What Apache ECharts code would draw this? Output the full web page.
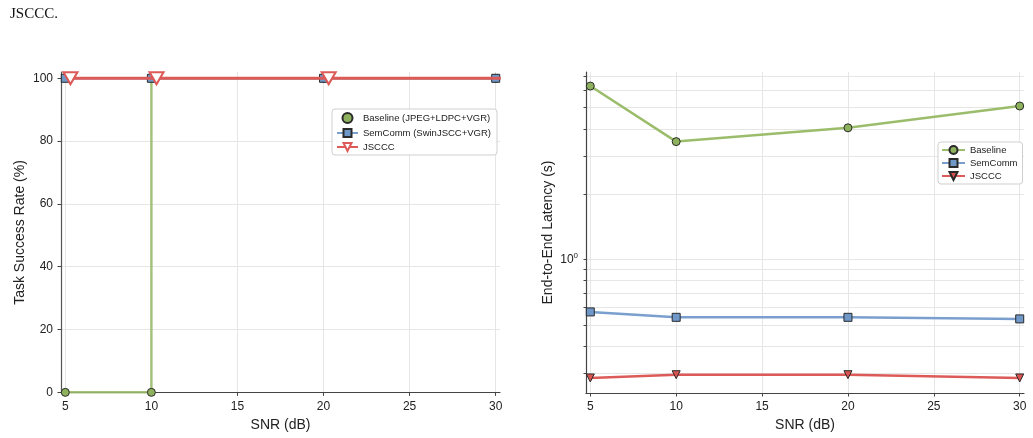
<!DOCTYPE html>
<html><head><meta charset="utf-8">
<script src="https://cdn.jsdelivr.net/npm/echarts@6/dist/echarts.min.js"></script>
<style>html,body{margin:0;padding:0;background:#fff}#c{width:1033px;height:438px}</style>
</head><body><div id="c"></div>
<script>
// ---- data ----
const snr = [5, 10, 20, 30];
const snrJSCCCLeft = [5.3, 10.3, 20.3, 30.3];
const successBaseline = [0, 0, 100, 100];
const successSemComm = [100, 100, 100, 100];
const successJSCCC = [100, 100, 100, 100];
const latBaseline = [6.29, 3.49, 4.04, 5.09];
const latSemComm = [0.574, 0.542, 0.542, 0.533];
const latJSCCC = [0.285, 0.295, 0.295, 0.285];
const xTicks = [5, 10, 15, 20, 25, 30];
const successTicks = [0, 20, 40, 60, 80, 100];
const latencyGrid = [0.3, 0.4, 0.5, 0.6, 0.7, 0.8, 0.9, 1, 2, 3, 4, 5, 6, 7];
const latencyLabels = [1];

const pairs = (xs, ys) => xs.map((x, i) => [x, ys[i]]);
const FONT = "'Liberation Sans', Arial, sans-serif";
const GREEN = '#9bbd6b', GREEN_F = '#8db15c';
const BLUE = '#7a9fcf', BLUE_F = '#6f97c8';
const RED = '#dc5b58', RED_F = '#d95350';
const EDGE = '#2a2a2a';

const xAxisBase = (gi) => ({
  type: 'value', gridIndex: gi, min: 4.75, max: 30.25,
  name: 'SNR (dB)', nameLocation: 'middle', nameGap: 24,
  nameTextStyle: {fontFamily: FONT, fontSize: 14, color: '#222'},
  axisLine: {show: true, lineStyle: {color: '#444', width: 1.2}},
  axisTick: {show: true, length: 3.5, customValues: xTicks, lineStyle: {color: '#444'}},
  axisLabel: {customValues: xTicks, fontFamily: FONT, fontSize: 12, color: '#222', margin: 8},
  splitLine: {show: true, lineStyle: {color: '#e6e6e6', width: 1}}
});

const legendBase = {
  orient: 'vertical', itemWidth: 21, itemHeight: 10, itemGap: 4,
  borderColor: '#cfcfcf', borderWidth: 1, borderRadius: 3, backgroundColor: '#fff',
  textStyle: {fontFamily: FONT, fontSize: 9.5, color: '#222'}
};

const option = {
  animation: false,
  backgroundColor: '#fff',
  title: {text: 'JSCCC.', left: 5, top: 2, textStyle: {fontFamily: "'Liberation Serif', 'Times New Roman', serif", fontSize: 15, fontWeight: 'normal', color: '#111'}},
  grid: [
    {left: 61, right: 533, top: 72, bottom: 45},
    {left: 586, right: 9, top: 72, bottom: 45}
  ],
  xAxis: [xAxisBase(0), xAxisBase(1)],
  yAxis: [
    {
      type: 'value', gridIndex: 0, min: -0.2, max: 102,
      name: 'Task Success Rate (%)', nameLocation: 'middle', nameGap: 34,
      nameTextStyle: {fontFamily: FONT, fontSize: 14, color: '#222'},
      axisLine: {show: true, lineStyle: {color: '#555', width: 1.2}},
      axisTick: {show: true, length: 3.5, customValues: successTicks, lineStyle: {color: '#444'}},
      axisLabel: {customValues: successTicks, fontFamily: FONT, fontSize: 12, color: '#222', margin: 8},
      splitLine: {show: true, lineStyle: {color: '#e6e6e6', width: 1}}
    },
    {
      type: 'log', logBase: 10, gridIndex: 1, min: 0.243, max: 7.3,
      name: 'End-to-End Latency (s)', nameLocation: 'middle', nameGap: 31,
      nameTextStyle: {fontFamily: FONT, fontSize: 14, color: '#222'},
      axisLine: {show: true, lineStyle: {color: '#444', width: 1.2}},
      axisTick: {show: true, length: 2.5, customValues: latencyGrid, lineStyle: {color: '#444'}},
      axisLabel: {
        customValues: latencyLabels, fontFamily: FONT, fontSize: 12, color: '#222', margin: 8,
        formatter: v => '10{sup|' + Math.round(Math.log10(v)) + '}',
        rich: {sup: {fontSize: 8, fontFamily: FONT, color: '#222', verticalAlign: 'top', padding: [0, 0, 7, 0]}}
      },
      splitLine: {show: true, lineStyle: {color: '#e6e6e6', width: 1}}
    }
  ],
  legend: [
    Object.assign({}, legendBase, {
      left: 332, top: 109, padding: [3, 6, 3, 4],
      formatter: n => n.trim(),
      data: [
        {name: 'Baseline (JPEG+LDPC+VGR)', icon: 'circle'},
        {name: 'SemComm (SwinJSCC+VGR)'},
        {name: 'JSCCC '}
      ]
    }),
    Object.assign({}, legendBase, {
      left: 938, top: 142, padding: [3, 5, 3, 3], itemGap: 3, itemWidth: 23,
      data: ['Baseline', 'SemComm', 'JSCCC']
    })
  ],
  series: [
    {
      name: 'Baseline (JPEG+LDPC+VGR)', type: 'line', xAxisIndex: 0, yAxisIndex: 0,
      data: pairs(snr, successBaseline), step: 'start',
      lineStyle: {color: GREEN, width: 2.5, opacity: 0.9},
      symbol: 'circle', symbolSize: 8,
      itemStyle: {color: GREEN_F, borderColor: EDGE, borderWidth: 1}, z: 2
    },
    {
      name: 'SemComm (SwinJSCC+VGR)', type: 'line', xAxisIndex: 0, yAxisIndex: 0,
      data: pairs(snr, successSemComm),
      lineStyle: {color: BLUE, width: 2.5},
      symbol: 'rect', symbolSize: 8,
      itemStyle: {color: BLUE_F, borderColor: EDGE, borderWidth: 1}, z: 3
    },
    {
      name: 'JSCCC ', type: 'line', xAxisIndex: 0, yAxisIndex: 0,
      data: pairs(snrJSCCCLeft, successJSCCC),
      lineStyle: {color: RED, width: 3},
      symbol: 'triangle', symbolRotate: 180, symbolSize: [14, 12],
      itemStyle: {color: '#fff', borderColor: RED, borderWidth: 2}, z: 4
    },
    {
      name: 'Baseline', type: 'line', xAxisIndex: 1, yAxisIndex: 1,
      data: pairs(snr, latBaseline),
      lineStyle: {color: GREEN, width: 2.5},
      symbol: 'circle', symbolSize: 8,
      itemStyle: {color: GREEN_F, borderColor: EDGE, borderWidth: 1}
    },
    {
      name: 'SemComm', type: 'line', xAxisIndex: 1, yAxisIndex: 1,
      data: pairs(snr, latSemComm),
      lineStyle: {color: BLUE, width: 2.5},
      symbol: 'rect', symbolSize: 8,
      itemStyle: {color: BLUE_F, borderColor: EDGE, borderWidth: 1}
    },
    {
      name: 'JSCCC', type: 'line', xAxisIndex: 1, yAxisIndex: 1,
      data: pairs(snr, latJSCCC),
      lineStyle: {color: RED, width: 2.5},
      symbol: 'triangle', symbolRotate: 180, symbolSize: 8,
      itemStyle: {color: RED_F, borderColor: EDGE, borderWidth: 1}
    }
  ]
};
echarts.init(document.getElementById('c'), null, {renderer: 'canvas'}).setOption(option);
</script>
</body></html>
